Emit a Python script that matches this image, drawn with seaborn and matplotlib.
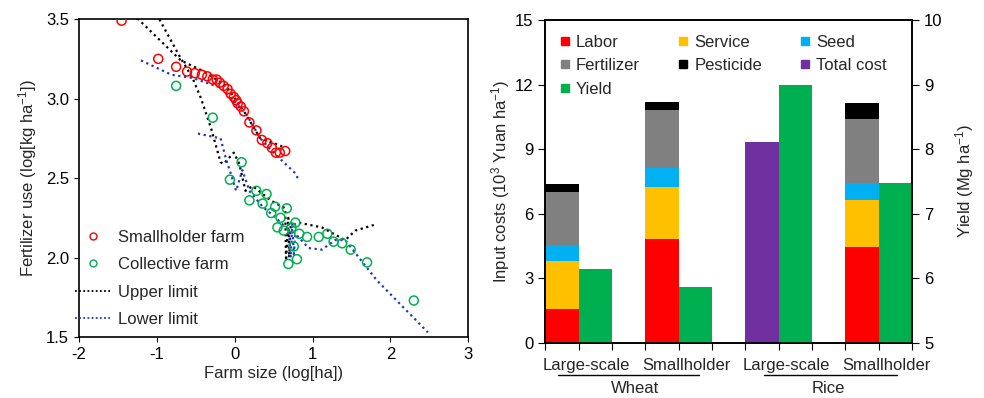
"""
Fertilizer use vs farm size, and input costs / yield by farm type
"""

import matplotlib.pyplot as plt
import matplotlib.transforms as mtransforms
from matplotlib.lines import Line2D
import numpy as np
import pandas as pd
import seaborn as sns


# left panel: scatter of farms (log farm size vs log fertilizer use)
smallholder_x = [-1.45, -0.98, -0.75, -0.61, -0.51, -0.42, -0.35, -0.28, -0.23, -0.19, -0.14, -0.09, -0.05,
                 -0.01, 0.02, 0.04, 0.08, 0.12, 0.19, 0.28, 0.35, 0.42, 0.48, 0.53, 0.58, 0.65]
smallholder_y = [3.49, 3.25, 3.20, 3.17, 3.16, 3.15, 3.14, 3.12, 3.12, 3.10, 3.08, 3.06, 3.03,
                 3.01, 2.99, 2.97, 2.95, 2.92, 2.85, 2.80, 2.74, 2.72, 2.69, 2.66, 2.66, 2.67]
collective_x = [-0.75, -0.28, 0.09, -0.06, 0.28, 0.41, 0.19, 0.36, 0.52, 0.67, 0.47, 0.59, 0.78, 0.55,
                0.63, 0.73, 0.83, 0.93, 1.08, 1.19, 1.27, 1.38, 1.49, 1.70, 0.76, 0.80, 0.69, 2.30]
collective_y = [3.08, 2.88, 2.60, 2.49, 2.42, 2.40, 2.36, 2.34, 2.32, 2.31, 2.28, 2.25, 2.22, 2.19,
                2.17, 2.19, 2.15, 2.13, 2.13, 2.15, 2.10, 2.09, 2.05, 1.97, 2.07, 1.99, 1.96, 1.73]

upper_sh_x = [-1.30, -0.69, -0.39, -0.11, 0.12, 0.33, 0.61]
upper_sh_y = [3.53, 3.24, 3.17, 3.08, 2.92, 2.75, 2.70]
upper_co_x = [-1.00, -0.71, -0.54, -0.43, -0.30, -0.18, -0.14, -0.01, 0.06, 0.14, 0.23, 0.31, 0.46,
              0.65, 0.66, 0.69, 0.70, 0.72, 0.82, 1.12, 1.42, 1.55, 1.82]
upper_co_y = [3.53, 3.27, 3.13, 3.00, 2.81, 2.60, 2.59, 2.66, 2.59, 2.42, 2.45, 2.42, 2.36,
              2.31, 1.98, 2.25, 2.00, 2.20, 2.22, 2.19, 2.11, 2.17, 2.21]
lower_sh_x = [-1.20, -0.81, -0.54, -0.18, 0.14, 0.33, 0.50, 0.78, 0.82]
lower_sh_y = [3.24, 3.15, 3.13, 3.07, 2.91, 2.75, 2.66, 2.53, 2.49]
lower_co_x = [-0.47, -0.18, -0.11, -0.05, 0.02, 0.10, 0.19, 0.36, 0.53, 0.70, 0.72, 0.74, 0.76, 0.78,
              0.95, 1.12, 1.29, 1.42, 1.82, 2.48]
lower_co_y = [2.78, 2.75, 2.62, 2.53, 2.42, 2.55, 2.42, 2.32, 2.25, 2.17, 2.00, 2.22, 2.02, 2.15,
              2.06, 2.05, 2.11, 2.11, 1.86, 1.53]

# right panel: stacked input costs (wheat large, wheat small, rice small) + yields
cost_slots = ["w_large_cost", "w_small_cost", "r_small_cost"]
labor = [1.56, 4.85, 4.48]
service = [2.24, 2.39, 2.17]
seed = [0.73, 0.88, 0.77]
fertilizer = [2.46, 2.70, 2.97]
pesticide = [0.40, 0.36, 0.74]
total_cost_slot = ["r_large_cost"]
total_cost = [9.35]
yield_slots = ["w_large_yield", "w_small_yield", "r_large_yield", "r_small_yield"]
yield_vals = [6.15, 5.87, 8.99, 7.48]

slot_order = ["w_large_cost", "w_large_yield", "gap1", "w_small_cost", "w_small_yield", "gap2",
              "r_large_cost", "r_large_yield", "gap3", "r_small_cost", "r_small_yield"]
farm_labels = ["Large-scale", "Smallholder", "Large-scale", "Smallholder"]
crop_labels = ["Wheat", "Rice"]

RED = "#FF0000"
GREEN = "#00B050"
BLUE = "#2233C8"
cost_colors = {
    "Labor": "#FF0000",
    "Service": "#FFC000",
    "Seed": "#00B0F0",
    "Fertilizer": "#808080",
    "Pesticide": "#000000",
    "Total cost": "#7030A0",
    "Yield": "#00B050",
}


def scatter_panel(ax):
    sns.scatterplot(x=smallholder_x, y=smallholder_y, ax=ax, marker="o", s=42,
                    facecolor="none", edgecolor=RED, linewidth=1.1, zorder=3)
    sns.scatterplot(x=collective_x, y=collective_y, ax=ax, marker="o", s=42,
                    facecolor="none", edgecolor=GREEN, linewidth=1.1, zorder=3)
    for xs, ys, c in [(upper_sh_x, upper_sh_y, "black"), (upper_co_x, upper_co_y, "black"),
                      (lower_sh_x, lower_sh_y, BLUE), (lower_co_x, lower_co_y, BLUE)]:
        sns.lineplot(x=xs, y=ys, ax=ax, sort=False, estimator=None, color=c,
                     linestyle=(0, (1, 1.6)), linewidth=1.6, zorder=2)

    ax.set_xlim(-2, 3)
    ax.set_ylim(1.5, 3.5)
    ax.set_xticks([-2, -1, 0, 1, 2, 3])
    ax.set_yticks([1.5, 2.0, 2.5, 3.0, 3.5])
    ax.set_yticklabels(["1.5", "2.0", "2.5", "3.0", "3.5"])
    ax.set_xlabel("Farm size (log[ha])", labelpad=3)
    ax.set_ylabel("Fertilizer use (log[kg ha$^{-1}$])", labelpad=5)
    for side in ["top", "right"]:
        ax.spines[side].set_visible(True)

    handles = [
        Line2D([], [], marker="o", ls="", mfc="none", mec=RED, ms=5, mew=1),
        Line2D([], [], marker="o", ls="", mfc="none", mec=GREEN, ms=5, mew=1),
        Line2D([], [], ls=(0, (1, 1.3)), color="black", lw=1.3),
        Line2D([], [], ls=(0, (1, 1.3)), color=BLUE, lw=1.3),
    ]
    labels = ["Smallholder farm", "Collective farm", "Upper limit", "Lower limit"]
    ax.legend(handles, labels, loc="lower left", bbox_to_anchor=(-0.035, 0.0), frameon=False,
              handlelength=2.1, handletextpad=0.45, labelspacing=0.75, borderaxespad=0.2,
              fontsize=12)


def stacked_cost_panel(ax):
    layers = [("Labor", labor), ("Service", service), ("Seed", seed),
              ("Fertilizer", fertilizer), ("Pesticide", pesticide)]
    cum = np.cumsum([vals for _, vals in layers], axis=0)
    # draw tallest first so lower layers sit on top
    for (name, _), tops in reversed(list(zip(layers, cum))):
        df = pd.DataFrame({"slot": cost_slots, "value": tops})
        sns.barplot(data=df, x="slot", y="value", order=slot_order, ax=ax, color=cost_colors[name],
                    saturation=1, width=1, errorbar=None, linewidth=0)
    df = pd.DataFrame({"slot": total_cost_slot, "value": total_cost})
    sns.barplot(data=df, x="slot", y="value", order=slot_order, ax=ax, color=cost_colors["Total cost"],
                saturation=1, width=1, errorbar=None, linewidth=0)

    ax2 = ax.twinx()
    df = pd.DataFrame({"slot": yield_slots, "value": yield_vals})
    sns.barplot(data=df, x="slot", y="value", order=slot_order, ax=ax2, color=cost_colors["Yield"],
                saturation=1, width=1, errorbar=None, linewidth=0)

    ax.set_ylim(0, 15)
    ax.set_yticks([0, 3, 6, 9, 12, 15])
    ax2.set_ylim(5, 10)
    ax2.set_yticks([5, 6, 7, 8, 9, 10])
    ax.set_xlim(-0.5, 10.5)
    ax.set_xticks(np.arange(-0.5, 11, 1))
    ax.set_xticklabels([])
    ax.set_xlabel("")
    ax2.set_xlabel("")
    ax.set_ylabel("Input costs (10$^{3}$ Yuan ha$^{-1}$)", labelpad=2)
    ax2.set_ylabel("Yield (Mg ha$^{-1}$)", labelpad=8)
    for a in [ax, ax2]:
        for side in ["top", "right", "left", "bottom"]:
            a.spines[side].set_visible(True)
        a.tick_params(direction="out", length=5)

    trans = mtransforms.blended_transform_factory(ax.transData, ax.transAxes)
    for xpos, lab in zip([0.73, 3.73, 6.73, 9.73], farm_labels):
        ax.text(xpos, -0.07, lab, transform=trans, ha="center", va="center", fontsize=12)
    for (x0, x1), crop, xc in zip([(-0.1, 4.1), (6.05, 10.05)], crop_labels, [2.2, 8.0]):
        ax.plot([x0, x1], [-0.099, -0.099], transform=trans, color="black", lw=1, clip_on=False)
        ax.text(xc, -0.14, crop, transform=trans, ha="center", va="center", fontsize=12)

    names = ["Labor", "Fertilizer", "Yield", "Service", "Pesticide", "Seed", "Total cost"]
    handles = [Line2D([], [], marker="s", ls="", mfc=cost_colors[n], mec=cost_colors[n], ms=5.5)
               for n in names]
    ax.legend(handles, names, ncol=3, loc="upper left", frameon=False, fontsize=12,
              handlelength=0.6, handletextpad=0.35, columnspacing=2.3, labelspacing=0.5,
              borderaxespad=0.5, bbox_to_anchor=(0.0, 1.0))


def main():
    sns.set_style("ticks")
    plt.rcParams["font.family"] = ["Liberation Sans", "DejaVu Sans"]
    plt.rcParams["mathtext.fontset"] = "custom"
    plt.rcParams["mathtext.rm"] = "Liberation Sans"
    plt.rcParams["mathtext.it"] = "Liberation Sans:italic"
    plt.rcParams["axes.unicode_minus"] = False
    plt.rcParams["font.size"] = 12
    plt.rcParams["axes.labelsize"] = 12
    plt.rcParams["xtick.labelsize"] = 12
    plt.rcParams["ytick.labelsize"] = 12
    plt.rcParams["axes.edgecolor"] = "black"
    plt.rcParams["axes.linewidth"] = 1.2
    plt.rcParams["xtick.color"] = "black"
    plt.rcParams["ytick.color"] = "black"

    fig = plt.figure(figsize=(9.84, 3.98), dpi=100)
    ax_left = fig.add_axes([0.080, 0.153, 0.396, 0.799])
    ax_right = fig.add_axes([0.554, 0.138, 0.373, 0.812])

    scatter_panel(ax_left)
    stacked_cost_panel(ax_right)

    fig.savefig("out.png", dpi=100)


if __name__ == "__main__":
    main()
